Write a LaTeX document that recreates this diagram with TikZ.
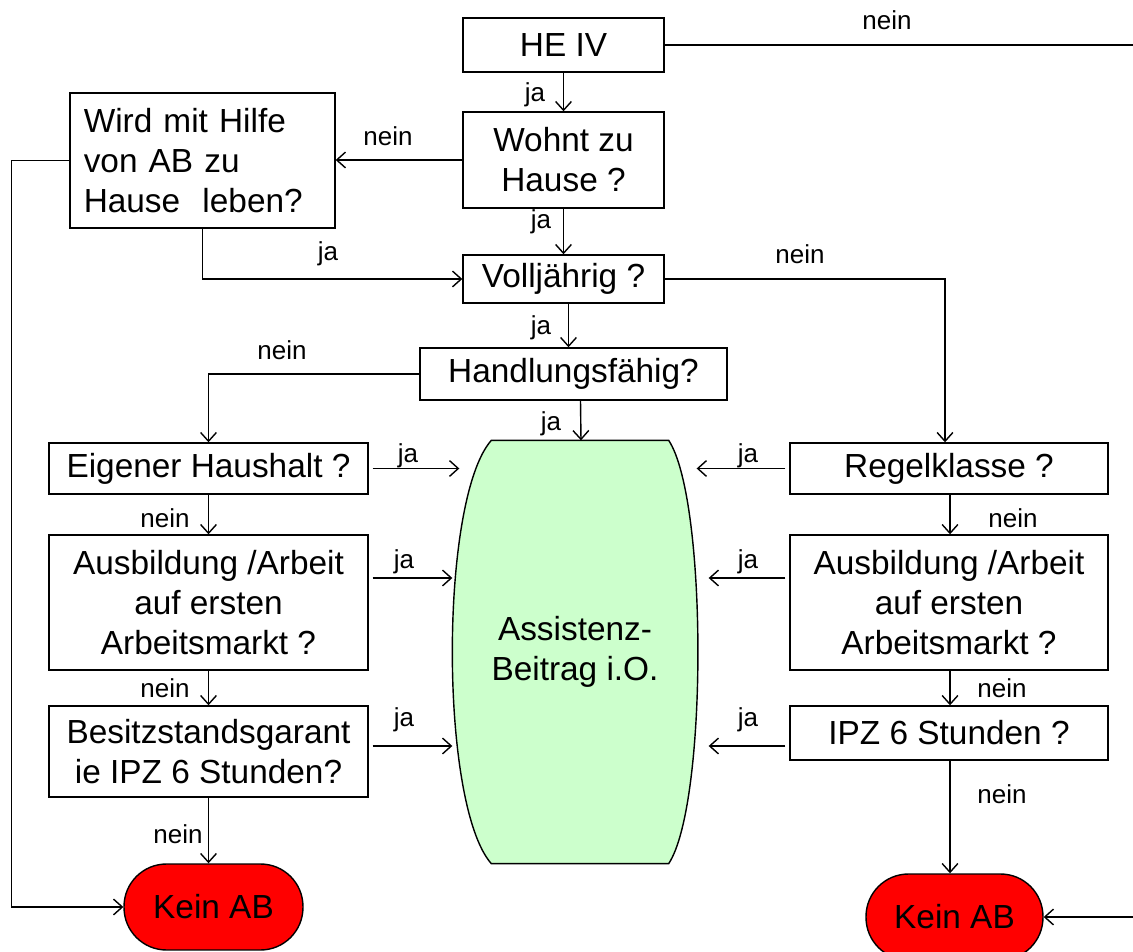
\documentclass[tikz,border=0pt]{standalone}
\usepackage{fontspec}
\setmainfont{Liberation Sans}
\usetikzlibrary{arrows.meta}
\usetikzlibrary{calc}
\tikzset{>={Straight Barb[length=5pt,width=9pt]}}
\tikzset{box/.style = {draw, fill=white, align=center, inner sep=0,
                       font=\fontsize{19}{22.7}\selectfont}}
\tikzset{stopbox/.style = {box, fill=red, rounded corners=0.85cm}}
\tikzset{lbl/.style = {inner sep=0, font=\fontsize{14.8}{16}\selectfont}}

\begin{document}
\begin{tikzpicture}[x=0.02cm, y=-0.02cm, line width=0.8pt]
    \useasboundingbox (0,0) rectangle (1133,952);

    % middle column
    \node [box, minimum width=4.02cm, minimum height=1.08cm] (he) at (563.5,45) {HE IV};
    \node [box, minimum width=4.02cm, minimum height=1.92cm] (wohnt) at (563.5,160) {Wohnt zu\\Hause ?};
    \node [box, minimum width=5.3cm, minimum height=2.7cm, align=left, text width=4.75cm] (hilfe) at (202.5,160.5)
          {Wird mit Hilfe\\von AB zu\\Hause\ \ leben?};
    \node [box, minimum width=4.02cm, minimum height=0.96cm] (voll) at (563.5,279) {Volljährig ?};
    \node [box, minimum width=6.14cm, minimum height=1.04cm] (handl) at (573.5,374) {Handlungsfähig?};

    % result in the middle
    \coordinate (ok) at (575,652);
    \node [inner sep=0, minimum width=4.88cm, minimum height=8.44cm] (okrand) at (ok) {};
    \draw [fill={rgb,255:red,204;green,255;blue,204}]
          ($(okrand.north west)+(39,0)$) -- ($(okrand.north east)+(-29,0)$)
          .. controls ($(okrand.north east)+(10,59)$) and ($(okrand.south east)+(10,-59)$) .. ($(okrand.south east)+(-29,0)$)
          -- ($(okrand.south west)+(39,0)$)
          .. controls ($(okrand.south west)+(-13,-59)$) and ($(okrand.north west)+(-13,59)$) .. cycle;
    \node [align=center, font=\fontsize{19}{22.7}\selectfont] (oktext) at (ok) {Assistenz-\\Beitrag i.O.};

    % left column
    \node [box, minimum width=6.38cm, minimum height=1.02cm] (haus) at (208.5,468.5) {Eigener Haushalt ?};
    \node [box, minimum width=6.38cm, minimum height=2.7cm] (ausbl) at (208.5,602.5)
          {Ausbildung /Arbeit\\auf ersten\\Arbeitsmarkt ?};
    \node [box, minimum width=6.38cm, minimum height=1.82cm] (besitz) at (208.5,751.5)
          {Besitzstandsgarant\\ie IPZ 6 Stunden?};
    \node [stopbox, minimum width=3.58cm, minimum height=1.72cm] (keinl) at (213.5,907) {Kein AB};

    % right column
    \node [box, minimum width=6.36cm, minimum height=1.02cm] (regel) at (949,468.5) {Regelklasse ?};
    \node [box, minimum width=6.36cm, minimum height=2.7cm] (ausbr) at (949,602.5)
          {Ausbildung /Arbeit\\auf ersten\\Arbeitsmarkt ?};
    \node [box, minimum width=6.36cm, minimum height=1.08cm] (ipz) at (949,733) {IPZ 6 Stunden ?};
    \node [stopbox, minimum width=3.54cm, minimum height=1.72cm] (keinr) at (954.5,917) {Kein AB};

    % connectors
    \coordinate (rand) at (1150,45);
    \draw [->] (he.east) -- (rand) |- (keinr.east);
    \draw [->] (he.south) -- (wohnt.north);
    \draw [->] (wohnt.west) -- (hilfe.east |- wohnt.west);
    \draw [->] (wohnt.south) -- (voll.north);
    \draw [->] (hilfe.south) |- (voll.west);
    \draw [->] (hilfe.west) -- ++(-58,0) |- (keinl.west);
    \draw [->] (voll.east) -| (regel.north -| 945,0);
    \draw [->] ($(voll.south)+(5,0)$) -- ($(handl.north)+(-5,0)$);
    \draw [->] (handl.west) -| (haus.north);
    \draw [->] ($(handl.south)+(7,0)$) -- ($(okrand.north)+(6,0)$);

    \draw [->] ($(haus.east)+(4,0)$) -- ($(okrand.west |- haus.east)+(7,0)$);
    \draw [->] (haus.south) -- (ausbl.north);
    \draw [->] ($(ausbl.east |- 0,578)+(4,0)$) -- (okrand.west |- 0,578);
    \draw [->] (ausbl.south) -- (besitz.north);
    \draw [->] ($(besitz.east |- 0,746)+(4,0)$) -- (okrand.west |- 0,746);
    \draw [->] (besitz.south) -- (besitz.south |- keinl.north);

    \draw [->] ($(regel.west)+(-4,0)$) -- ($(okrand.east |- regel.west)+(-1,0)$);
    \draw [->] (regel.south -| 950,0) -- (ausbr.north -| 950,0);
    \draw [->] ($(ausbr.west |- 0,578)+(-4,0)$) -- ($(okrand.east |- 0,578)+(11,0)$);
    \draw [->] (ausbr.south -| 950,0) -- (ipz.north -| 950,0);
    \draw [->] ($(ipz.west |- 0,746)+(-4,0)$) -- ($(okrand.east |- 0,746)+(11,0)$);
    \draw [->] (ipz.south -| 950,0) -- (keinr.north -| 950,0);

    % labels
    \node [lbl] (n1) at (887,20) {nein};
    \node [lbl] (j1) at (535,95) {ja};
    \node [lbl] (n2) at (388,136) {nein};
    \node [lbl] (j2) at (541,222) {ja};
    \node [lbl] (j3) at (328,254) {ja};
    \node [lbl] (n3) at (800,254) {nein};
    \node [lbl] (j4) at (541,328) {ja};
    \node [lbl] (n4) at (282,350) {nein};
    \node [lbl] (j5) at (551,424) {ja};
    \node [lbl] (j6) at (408,456) {ja};
    \node [lbl] (n5) at (165,518) {nein};
    \node [lbl] (j7) at (404,562) {ja};
    \node [lbl] (n6) at (165,688) {nein};
    \node [lbl] (j8) at (404,720) {ja};
    \node [lbl] (n7) at (178,834) {nein};
    \node [lbl] (j9) at (748,456) {ja};
    \node [lbl] (n8) at (1013,518) {nein};
    \node [lbl] (j10) at (748,562) {ja};
    \node [lbl] (n9) at (1002,688) {nein};
    \node [lbl] (j11) at (748,720) {ja};
    \node [lbl] (n10) at (1002,794) {nein};
\end{tikzpicture}
\end{document}
